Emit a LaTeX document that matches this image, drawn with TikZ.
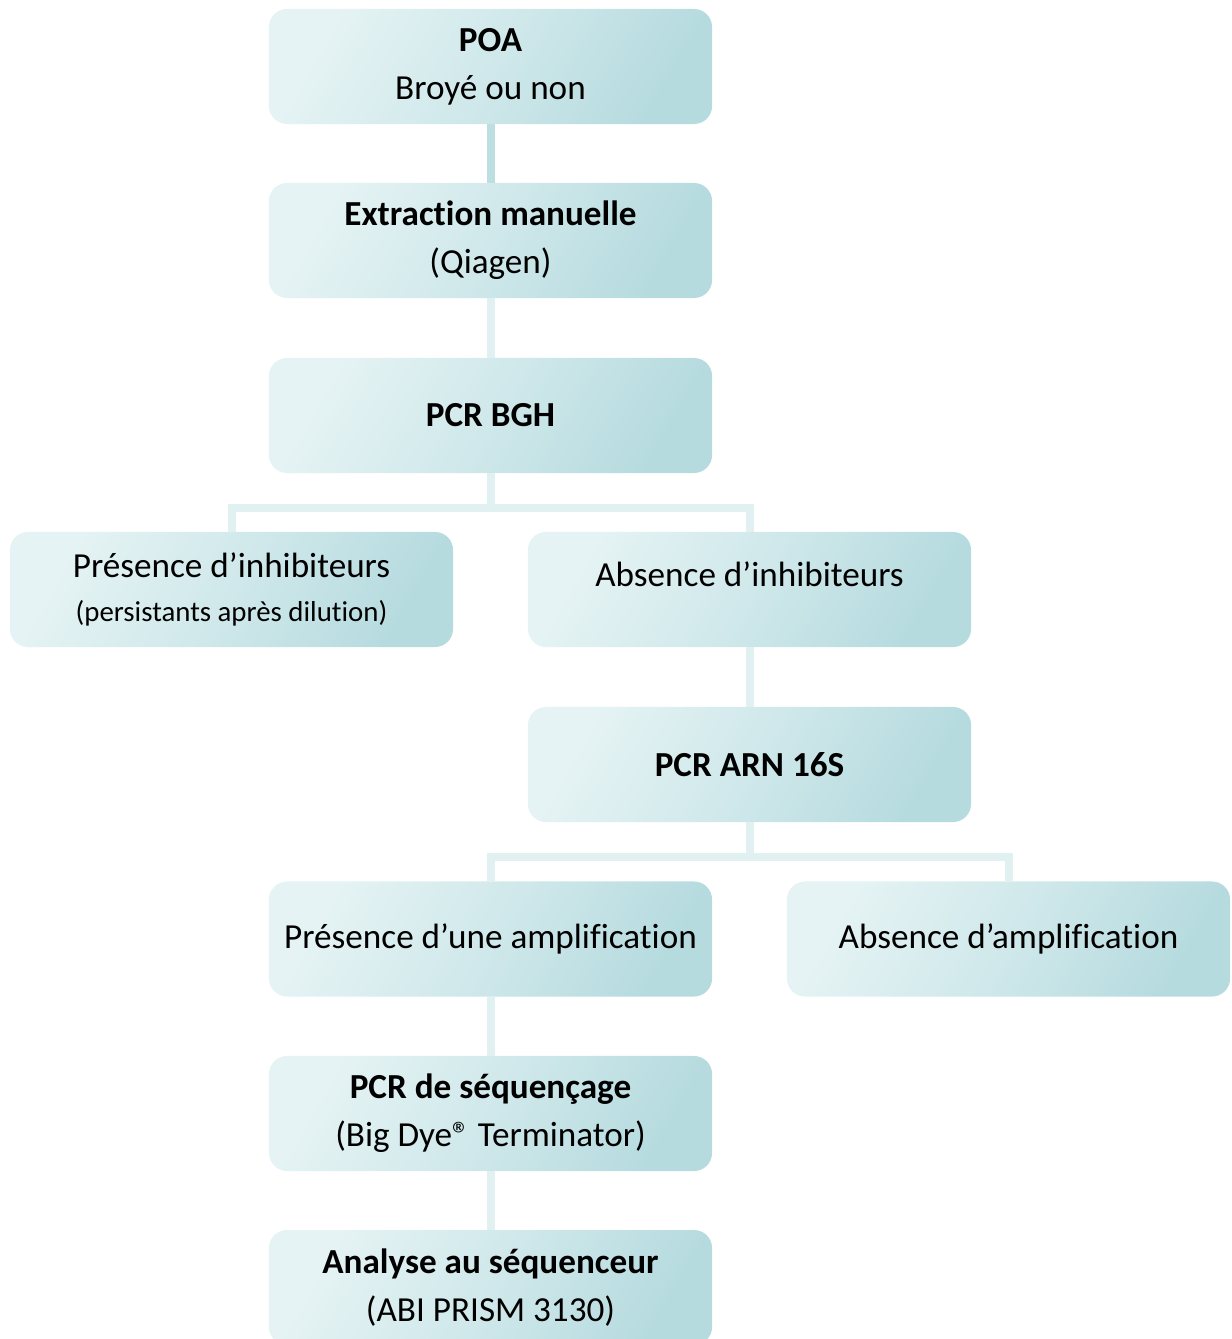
\documentclass[tikz,border=0pt]{standalone}
\usepackage{fontspec}
\setmainfont[Ligatures=NoCommon]{Carlito}
\usepackage{tikz}

\definecolor{boxlight}{HTML}{E5F3F4}
\definecolor{boxdark}{HTML}{B6DBDF}
\definecolor{linklight}{HTML}{E1F0F1}
\definecolor{linkdark}{HTML}{BEDFE2}

\tikzset{
  stepbox/.style={shape=rectangle, rounded corners=0.45cm,
    minimum width=11.075cm, minimum height=2.875cm, inner sep=0pt,
    top color=boxlight, bottom color=boxdark, middle color=boxlight!55!boxdark,
    shading angle=60, align=center,
    font=\fontsize{25}{34}\selectfont},
  link/.style={line width=0.2cm, draw=linklight}
}

\begin{document}
\begin{tikzpicture}[x=0.025cm, y=-0.025cm]
   \useasboundingbox (0,0) rectangle (1231,1339);
   \path (490.5,508) coordinate (K1);
   \path (749.5,857) coordinate (K2);

   \path (490.5,66.5) node[stepbox] (POA)
   {\textbf{POA}\\ Broyé ou non};
   \path (490.5,240.5) node[stepbox] (Ext)
   {\textbf{Extraction manuelle}\\ (Qiagen)};
   \path (490.5,415.5) node[stepbox] (BGH)
   {\textbf{PCR BGH}};
   \path (231.5,589.5) node[stepbox] (PInh)
   {Présence d’inhibiteurs\\[-3pt] {\fontsize{20.5}{30}\selectfont (persistants après dilution)}};
   \path (749.5,589.5) node[stepbox] (AInh)
   {\raisebox{0.37cm}[\height][\depth]{Absence d’inhibiteurs}};
   \path (749.5,764.5) node[stepbox] (ARN)
   {\textbf{PCR ARN 16S}};
   \path (490.5,939) node[stepbox] (PAmp)
   {Présence d’une amplification};
   \path (1008.5,939) node[stepbox] (AAmp)
   {Absence d’amplification};
   \path (490.5,1113.5) node[stepbox] (Seq)
   {\textbf{PCR de séquençage}\\ (Big Dye® Terminator)};
   \path (490.5,1287.5) node[stepbox] (Ana)
   {\textbf{Analyse au séquenceur}\\ (ABI PRISM 3130)};

   % connectors
   \draw[link, draw=linkdark] (POA) -- (Ext);
   \draw[link] (Ext) -- (BGH);
   \draw[link] (BGH) -- (K1);
   \draw[link] (PInh.north) |- (K1) -| (AInh.north);
   \draw[link] (AInh) -- (ARN);
   \draw[link] (ARN) -- (K2);
   \draw[link] (PAmp.north) |- (K2) -| (AAmp.north);
   \draw[link] (PAmp) -- (Seq);
   \draw[link] (Seq) -- (Ana);
\end{tikzpicture}
\end{document}
